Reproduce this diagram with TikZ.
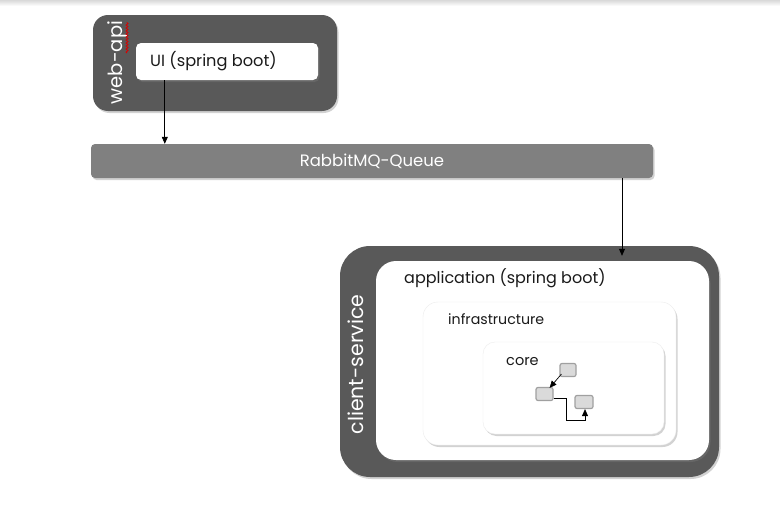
\documentclass[tikz,border=0pt]{standalone}
\usepackage{fontspec}
\setmainfont{Poppins}
\usetikzlibrary{shadows,arrows.meta,decorations.pathmorphing}
\definecolor{darkbox}{HTML}{595959}
\definecolor{queuegray}{HTML}{808080}
\definecolor{smallfill}{HTML}{DADADA}
\definecolor{smalledge}{HTML}{A0A0A0}
\definecolor{txt}{HTML}{1A1A1A}
\tikzset{
  shad/.style={drop shadow={shadow xshift=1.5pt,shadow yshift=-2pt,opacity=0.35}},
  darkcont/.style={fill=darkbox,shad,inner sep=0pt},
  whitecont/.style={fill=white,shad,inner sep=0pt},
  lbl/.style={anchor=west,inner sep=0pt,text=txt},
  smallbox/.style={fill=smallfill,draw=smalledge,line width=1.2pt,rounded corners=2pt,minimum width=16pt,minimum height=13pt,inner sep=0pt},
  arr/.style={-{Triangle[length=7pt,width=6pt]},line width=0.7pt,black},
  sarr/.style={-{Triangle[length=7pt,width=6pt]},line width=0.7pt,black},
}
\begin{document}
\begin{tikzpicture}[x=1pt,y=-1pt]
\fill[white] (0,0) rectangle (780,514);
\useasboundingbox (0,0) rectangle (780,514);
\shade[top color=gray!30,bottom color=white] (0,0) rectangle (780,6);
% web-api
\node[darkcont,rounded corners=15pt,minimum width=244pt,minimum height=96pt] (webapi) at (215,63) {};
\node[rotate=90,inner sep=0pt,text=white,font=\fontsize{19.5}{23}\selectfont] (webapilbl) at (118,62.5) {web-api};
\draw[red!85!black,line width=0.8pt,decorate,decoration={snake,amplitude=1pt,segment length=3pt}] (127,53) -- (127,22);
\node[whitecont,rounded corners=5pt,minimum width=182pt,minimum height=37pt] (ui) at (227,61.5) {};
\node[lbl,font=\fontsize{16.2}{19}\selectfont] (uilbl) at (150,61.5) {UI (spring boot)};
% queue
\node[fill=queuegray,shad,rounded corners=4pt,minimum width=562pt,minimum height=34pt,inner sep=0pt,text=white,font=\fontsize{16.5}{20}\selectfont] (queue) at (372,161) {RabbitMQ-Queue};
% client-service
\node[darkcont,rounded corners=30pt,minimum width=379pt,minimum height=231pt] (client) at (529.5,361.5) {};
\node[rotate=90,inner sep=0pt,text=white,font=\fontsize{20.5}{24}\selectfont] (clientlbl) at (356,364.5) {client-service};
\node[whitecont,rounded corners=20pt,minimum width=333pt,minimum height=199pt] (app) at (542.5,360.5) {};
\node[lbl,font=\fontsize{16}{19}\selectfont] (applbl) at (404,278) {application (spring boot)};
\node[whitecont,draw=gray!15,rounded corners=15pt,minimum width=253pt,minimum height=143pt] (infra) at (549.5,373.5) {};
\node[lbl,font=\fontsize{14.2}{17}\selectfont] (infralbl) at (448,319) {infrastructure};
\node[whitecont,draw=gray!15,rounded corners=12pt,minimum width=181pt,minimum height=92pt] (core) at (573.5,388) {};
\node[lbl,font=\fontsize{14.5}{17}\selectfont] (corelbl) at (506,362) {core};
\node[smallbox] (a) at (568,370) {};
\node[smallbox,minimum width=17pt] (b) at (544.5,394) {};
\node[smallbox,minimum width=18pt] (c) at (584,402) {};
\coordinate (bc1) at (566,398);
\coordinate (bc2) at (566,420);
\coordinate (bc3) at (585,420);
% connectors
\draw[arr] ([xshift=29pt]ui.south west) -- ([xshift=29pt]ui.south west |- queue.north);
\draw[arr] ([xshift=250pt]queue.south) -- ([xshift=250pt,yshift=5pt]queue.south |- app.north);
\draw[sarr] ([xshift=2pt,yshift=3pt]a.south west) -- ([xshift=-4pt,yshift=-1pt]b.north east);
\draw[sarr] (b.east |- bc1) -- (bc1) -- (bc2) -- (bc3) -- (bc3 |- c.south);
\end{tikzpicture}
\end{document}
